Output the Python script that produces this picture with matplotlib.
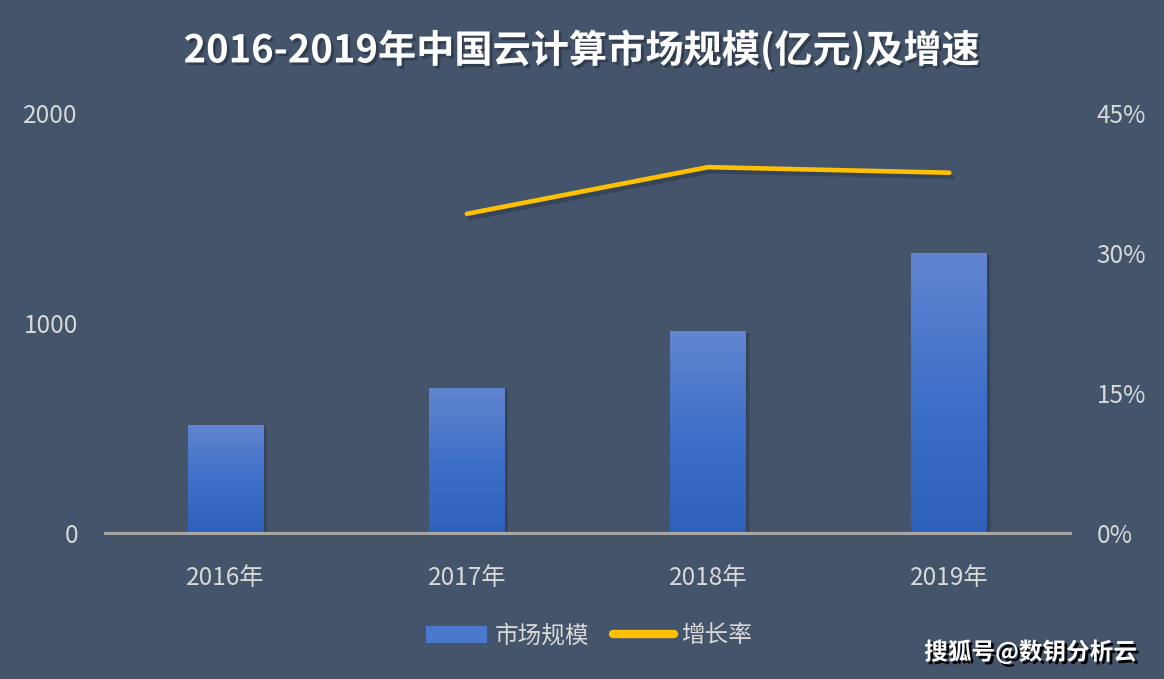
import matplotlib
matplotlib.use('Agg')
import matplotlib.pyplot as plt
import numpy as np
from matplotlib import patheffects as pe
from matplotlib.colors import LinearSegmentedColormap
from matplotlib.patches import Patch
from matplotlib.lines import Line2D
from matplotlib.ticker import FixedLocator, FuncFormatter

plt.rcParams['font.family'] = ['Noto Sans CJK SC', 'DejaVu Sans']

# ---- data ----
years = ['2016年', '2017年', '2018年', '2019年']
market = [515.4, 691.6, 962.8, 1334.0]
growth_years = ['2017年', '2018年', '2019年']
growth = [34.2, 39.2, 38.6]
left_ticks = [0, 1000, 2000]
right_ticks = [0, 15, 30, 45]
title = '2016-2019年中国云计算市场规模(亿元)及增速'
legend_labels = ['市场规模', '增长率']
watermark = '搜狐号@数钥分析云'

bg = '#44546A'
tick_color = '#D9D9D9'
fig = plt.figure(figsize=(11.64, 6.79), dpi=100, facecolor=bg)
ax = fig.add_axes([105 / 1164, 1 - 533 / 679, 965 / 1164, 420 / 679])
ax.set_facecolor(bg)

x = np.arange(len(years))
bars = ax.bar(x, market, width=0.315, color='#3F6FC7', zorder=2)
cmap = LinearSegmentedColormap.from_list('g', ['#2F61BB', '#3F70C8', '#6285CF'])
grad = np.linspace(0, 1, 256).reshape(-1, 1)
for b in bars:
    b.set_path_effects([pe.SimplePatchShadow(offset=(2.5, -1.5), shadow_rgbFace='#1a2230', alpha=0.18),
                        pe.SimplePatchShadow(offset=(1.2, -0.8), shadow_rgbFace='#1a2230', alpha=0.18),
                        pe.Normal()])
    x0, y0, w, h = b.get_x(), b.get_y(), b.get_width(), b.get_height()
    im = ax.imshow(grad, cmap=cmap, extent=[x0, x0 + w, y0, y0 + h], origin='lower',
                   aspect='auto', zorder=2.1, interpolation='bilinear')
    im.set_clip_path(b)

ax.set_xlim(-0.5, len(years) - 0.5)
ax.set_ylim(0, 2000)
ax.set_xticks(x)
ax.set_xticklabels(years)
ax.yaxis.set_major_locator(FixedLocator(left_ticks))
for s in ['top', 'left', 'right']:
    ax.spines[s].set_visible(False)
ax.spines['bottom'].set_color('#A6A6A6')
ax.spines['bottom'].set_linewidth(2.2)
ax.spines['bottom'].set_zorder(3)
ax.tick_params(axis='both', length=0, colors=tick_color, labelsize=17.5)
ax.tick_params(axis='y', pad=19.5)
ax.tick_params(axis='x', pad=23)

ax2 = ax.twinx()
ax2.set_ylim(0, 45)
gx = [years.index(g) for g in growth_years]
ax2.plot(gx, growth, color='#FFC000', linewidth=3.3, solid_capstyle='round',
         solid_joinstyle='round', zorder=4,
         path_effects=[pe.SimpleLineShadow(offset=(2, -3), shadow_color='#1a2230', alpha=0.3), pe.Normal()])
ax2.yaxis.set_major_locator(FixedLocator(right_ticks))
ax2.yaxis.set_major_formatter(FuncFormatter(lambda v, p: f'{v:.0f}%'))
for s in ['top', 'left', 'right', 'bottom']:
    ax2.spines[s].set_visible(False)
ax2.tick_params(axis='y', length=0, colors=tick_color, labelsize=17.5, pad=19)

fig.text(582 / 1164, 1 - 50 / 679, title, ha='center', va='center', fontsize=27.5,
         fontweight='bold', color='white',
         path_effects=[pe.withSimplePatchShadow(offset=(2, -2), shadow_rgbFace='#1a2230', alpha=0.45)])

handles = [Patch(facecolor='#4A78CC', edgecolor='none'),
           Line2D([0], [0], color='#FFC000', linewidth=6, solid_capstyle='round')]
leg = fig.legend(handles, legend_labels, loc='center', bbox_to_anchor=(589 / 1164, 1 - 636 / 679),
                 ncol=2, frameon=False, fontsize=17, labelcolor=tick_color,
                 handlelength=2.6, handleheight=0.7, handletextpad=0.3, columnspacing=1.0)

fig.text(1137 / 1164, 1 - 652 / 679, watermark, ha='right', va='center', fontsize=17,
         fontweight='bold', color='white',
         path_effects=[pe.withSimplePatchShadow(offset=(2, -2), shadow_rgbFace='black', alpha=1.0)])

fig.savefig('out.png', dpi=100, facecolor=bg)
